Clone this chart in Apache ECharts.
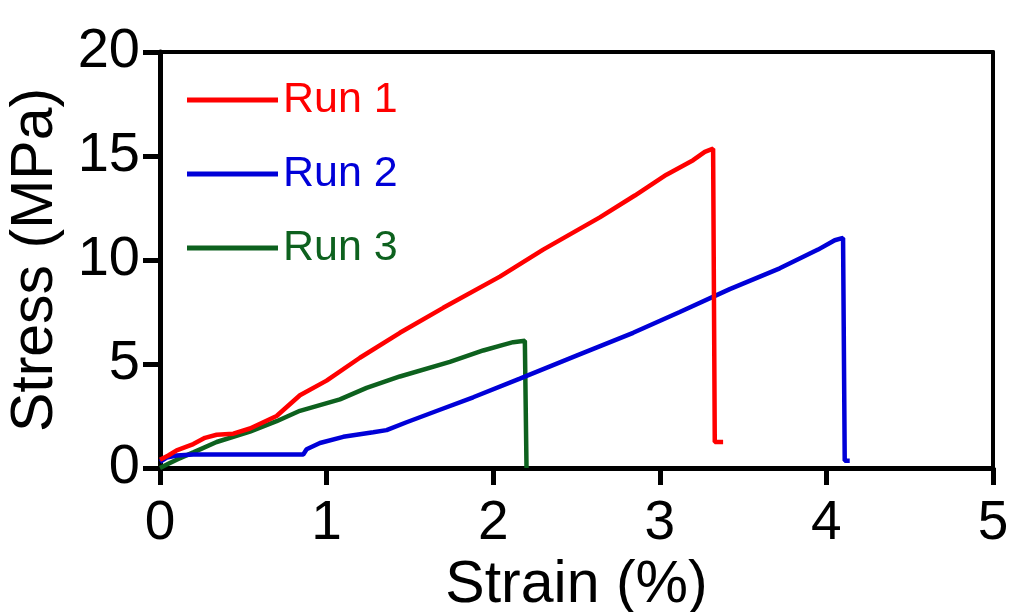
<!DOCTYPE html>
<html>
<head>
<meta charset="utf-8">
<script src="https://cdn.jsdelivr.net/npm/echarts@6/dist/echarts.min.js"></script>
<style>
  html, body { margin: 0; padding: 0; background: #fff; }
  #chart { width: 1011px; height: 612px; }
</style>
</head>
<body>
<div id="chart"></div>
<script>
// Stress–strain curves for three tensile runs: [strain %, stress MPa]
const run1 = [
  [0, 0.4], [0.05, 0.6], [0.1, 0.85], [0.2, 1.15], [0.27, 1.45], [0.34, 1.6],
  [0.44, 1.65], [0.54, 1.9], [0.7, 2.5], [0.84, 3.5], [1.0, 4.2], [1.2, 5.3],
  [1.44, 6.5], [1.7, 7.7], [2.04, 9.2], [2.3, 10.5], [2.64, 12.05], [2.85, 13.1],
  [3.04, 14.1], [3.2, 14.8], [3.27, 15.2], [3.32, 15.35], [3.33, 1.25], [3.38, 1.25]
];
const run2 = [
  [0, 0.3], [0.04, 0.5], [0.1, 0.6], [0.2, 0.65], [0.86, 0.65], [0.88, 0.9],
  [0.96, 1.2], [1.1, 1.5], [1.28, 1.72], [1.36, 1.82], [1.48, 2.2], [1.68, 2.8],
  [1.88, 3.4], [2.16, 4.3], [2.5, 5.4], [2.84, 6.5], [3.12, 7.5], [3.42, 8.6],
  [3.72, 9.6], [3.95, 10.5], [4.05, 10.95], [4.1, 11.06], [4.11, 0.35], [4.14, 0.35]
];
const run3 = [
  [0, 0.0], [0.05, 0.2], [0.1, 0.4], [0.2, 0.75], [0.34, 1.25], [0.54, 1.75],
  [0.7, 2.25], [0.84, 2.75], [1.08, 3.3], [1.24, 3.85], [1.44, 4.4], [1.74, 5.1],
  [1.94, 5.65], [2.06, 5.92], [2.12, 6.05], [2.19, 6.12], [2.2, 6.1], [2.2, 0]
];
const seriesNames = ['Run 1', 'Run 2', 'Run 3'];
const seriesColors = ['#ff0000', '#0000d8', '#0d611e'];
const xTicks = { min: 0, max: 5, step: 1 };
const yTicks = { min: 0, max: 20, step: 5 };

const FONT = '"Liberation Sans", Arial, sans-serif';
const chart = echarts.init(document.getElementById('chart'), null, { renderer: 'canvas' });

// plain frame lines on the top and right sides of the plot
const frameAxis = {
  show: true,
  axisLine: { show: true, onZero: false, lineStyle: { color: '#000', width: 4 } },
  axisTick: { show: false },
  axisLabel: { show: false },
  splitLine: { show: false }
};

chart.setOption({
  animation: false,
  backgroundColor: '#fff',
  grid: { left: 160, right: 18, top: 52, bottom: 144, containLabel: false, outerBoundsMode: 'none' },
  legend: {
    orient: 'vertical',
    left: 182,
    top: 73,
    itemWidth: 91,
    itemHeight: 5,
    itemGap: 30,
    icon: 'rect',
    selectedMode: false,
    textStyle: { fontFamily: FONT, fontSize: 43, lineHeight: 44, padding: [0, 0, 0, 0] },
    data: seriesNames.map((n, i) => ({ name: n, textStyle: { color: seriesColors[i] } }))
  },
  xAxis: [
    {
      type: 'value', position: 'bottom',
      min: xTicks.min, max: xTicks.max, interval: xTicks.step,
      name: 'Strain (%)', nameLocation: 'middle', nameGap: 78,
      nameTextStyle: { fontFamily: FONT, fontSize: 59, color: '#000' },
      axisLine: { onZero: false, lineStyle: { color: '#000', width: 5 } },
      axisTick: { length: 17, lineStyle: { color: '#000', width: 5 } },
      axisLabel: { fontFamily: FONT, fontSize: 55, color: '#000', margin: 28 },
      splitLine: { show: false }
    },
    Object.assign({ type: 'value', position: 'top', min: xTicks.min, max: xTicks.max }, frameAxis)
  ],
  yAxis: [
    {
      type: 'value', position: 'left',
      min: yTicks.min, max: yTicks.max, interval: yTicks.step,
      name: 'Stress (MPa)', nameLocation: 'middle', nameGap: 95, nameRotate: 90,
      nameTextStyle: { fontFamily: FONT, fontSize: 59, color: '#000' },
      axisLine: { onZero: false, lineStyle: { color: '#000', width: 5 } },
      axisTick: { length: 17, lineStyle: { color: '#000', width: 5 } },
      axisLabel: { fontFamily: FONT, fontSize: 56, color: '#000', margin: 20 },
      splitLine: { show: false }
    },
    Object.assign({ type: 'value', position: 'right', min: yTicks.min, max: yTicks.max }, frameAxis)
  ],
  series: [run1, run2, run3].map((d, i) => ({
    name: seriesNames[i],
    type: 'line',
    data: d,
    showSymbol: false,
    symbol: 'none',
    color: seriesColors[i],
    lineStyle: { color: seriesColors[i], width: 4.5 },
    z: 3 - i
  }))
});
</script>
</body>
</html>
